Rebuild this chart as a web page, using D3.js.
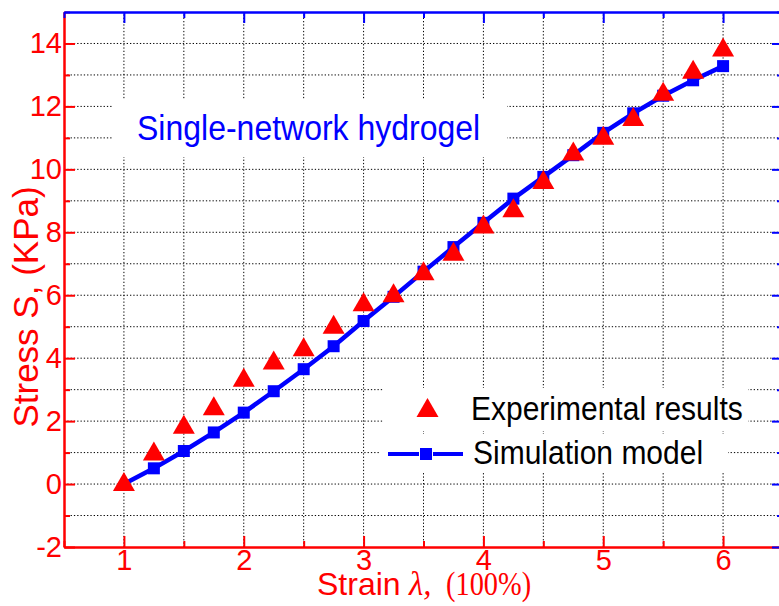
<!DOCTYPE html>
<html>
<head>
<meta charset="utf-8">
<script src="https://cdn.jsdelivr.net/npm/d3@7"></script>
<style>
  body { margin: 0; background: #fff; }
  svg { display: block; }
  .sans { font-family: "Liberation Sans", Arial, sans-serif; }
  .serif { font-family: "Liberation Serif", "Times New Roman", serif; }
</style>
</head>
<body>
<svg id="chart" width="779" height="606"></svg>
<script>
// strain (x) and the two stress series
const strain = [1, 1.25, 1.5, 1.75, 2, 2.25, 2.5, 2.75, 3, 3.25, 3.5, 3.75, 4, 4.25, 4.5, 4.75, 5, 5.25, 5.5, 5.75, 6];
const experimental = [0.08, 1.05, 1.9, 2.49, 3.39, 3.94, 4.36, 5.08, 5.79, 6.08, 6.78, 7.4, 8.26, 8.78, 9.68, 10.58, 11.08, 11.68, 12.48, 13.18, 13.89];
const simulation = [0, 0.5, 1.05, 1.64, 2.27, 2.95, 3.65, 4.38, 5.18, 5.95, 6.75, 7.53, 8.3, 9.07, 9.76, 10.45, 11.16, 11.78, 12.34, 12.83, 13.28];

const xMajor = [1, 2, 3, 4, 5, 6];
const xMinor = [0.5, 1.5, 2.5, 3.5, 4.5, 5.5, 6.5];
const yMajor = [-2, 0, 2, 4, 6, 8, 10, 12, 14];
const yMinor = [-1, 1, 3, 5, 7, 9, 11, 13, 15];
const xGrid = [1, 1.5, 2, 2.5, 3, 3.5, 4, 4.5, 5, 5.5, 6];
const yGrid = [-1, 0, 1, 2, 3, 4, 5, 6, 7, 8, 9, 10, 11, 12, 13, 14];

const seriesNames = ['Experimental results', 'Simulation model'];

const RED = '#ff0000';
const BLUE = '#0000ff';

const svg = d3.select('#chart');

const x = d3.scaleLinear().domain([0.5, 6.5]).range([64, 783]);
const y = d3.scaleLinear().domain([-2, 15]).range([547, 12]);

const points = strain.map((s, i) => ({ s, exp: experimental[i], sim: simulation[i] }));

// dotted grid
const grid = svg.append('g')
  .attr('stroke', '#000')
  .attr('stroke-width', 1)
  .attr('stroke-dasharray', '1.3,2');

grid.selectAll('line.v')
  .data(xGrid)
  .enter()
  .append('line')
  .attr('x1', d => x(d)).attr('x2', d => x(d))
  .attr('y1', y(-2)).attr('y2', y(15));

grid.selectAll('line.h')
  .data(yGrid)
  .enter()
  .append('line')
  .attr('x1', x(0.5)).attr('x2', x(6.5))
  .attr('y1', d => y(d)).attr('y2', d => y(d));

// white boxes behind the annotation and legend entries
svg.append('rect').attr('x', 113).attr('y', 100).attr('width', 394).attr('height', 57).attr('fill', '#fff');
svg.append('rect').attr('x', 384).attr('y', 388).attr('width', 364).attr('height', 43).attr('fill', '#fff');
svg.append('rect').attr('x', 380).attr('y', 434).attr('width', 348).attr('height', 39).attr('fill', '#fff');

// axes
const plainNum = d => String(d); // hyphen minus, like the original

const styleAxis = (g, color, showText) => {
  g.select('.domain').attr('stroke', color).attr('stroke-width', 2);
  g.selectAll('.tick line').attr('stroke', color).attr('stroke-width', 2);
  g.selectAll('.tick text')
    .attr('fill', color)
    .attr('font-size', 29)
    .attr('class', 'sans')
    .style('display', showText ? null : 'none');
};

const addAxis = (axisFn, scale, values, size, transform, color, showText) => {
  const g = svg.append('g')
    .attr('transform', transform)
    .call(axisFn(scale).tickValues(values).tickSizeInner(-size).tickSizeOuter(0)
      .tickPadding(showText ? 2 : 0).tickFormat(showText ? plainNum : ''));
  styleAxis(g, color, showText);
  return g;
};

addAxis(d3.axisBottom, x, xMinor, 6, `translate(0,${y(-2)})`, RED, false);
addAxis(d3.axisBottom, x, xMajor, 11, `translate(0,${y(-2)})`, RED, true);
addAxis(d3.axisLeft, y, yMinor, 6, `translate(${x(0.5)},0)`, RED, false);
const yAx = addAxis(d3.axisLeft, y, yMajor, 11, `translate(${x(0.5)},0)`, RED, true);
yAx.selectAll('.tick text').attr('x', -2);
addAxis(d3.axisTop, x, xMinor, 6, `translate(0,${y(15)})`, BLUE, false);
addAxis(d3.axisTop, x, xMajor, 11, `translate(0,${y(15)})`, BLUE, false);
addAxis(d3.axisRight, y, yMinor, 6, `translate(${x(6.5)},0)`, BLUE, false);
addAxis(d3.axisRight, y, yMajor, 11, `translate(${x(6.5)},0)`, BLUE, false);

// simulation line with squares
const line = d3.line().x(d => x(d.s)).y(d => y(d.sim));

svg.append('path')
  .datum(points)
  .attr('d', line)
  .attr('fill', 'none')
  .attr('stroke', BLUE)
  .attr('stroke-width', 4.5);

const sq = 12;
svg.selectAll('rect.sim')
  .data(points.slice(1))
  .enter()
  .append('rect')
  .attr('class', 'sim')
  .attr('x', d => x(d.s) - sq / 2)
  .attr('y', d => y(d.sim) - sq / 2)
  .attr('width', sq)
  .attr('height', sq)
  .attr('fill', BLUE);

// experimental triangles (bbox centred on the value)
const tri = (cx, cy) => `M${cx},${cy - 9.5}L${cx + 11},${cy + 9.5}L${cx - 11},${cy + 9.5}Z`;

svg.selectAll('path.exp')
  .data(points)
  .enter()
  .append('path')
  .attr('class', 'exp')
  .attr('d', d => tri(x(d.s), y(d.exp)))
  .attr('fill', RED);

// annotation
svg.append('text')
  .attr('class', 'sans')
  .attr('transform', 'translate(137,140) scale(1,1.08)')
  .attr('font-size', 32)
  .attr('fill', BLUE)
  .text('Single-network hydrogel');

// legend
svg.append('path').attr('d', tri(427.5, 407.5)).attr('fill', RED);
svg.append('line').attr('x1', 388).attr('x2', 463).attr('y1', 454).attr('y2', 454)
  .attr('stroke', BLUE).attr('stroke-width', 4);
svg.append('rect').attr('x', 419).attr('y', 448).attr('width', 14).attr('height', 12).attr('fill', '#fff');
svg.append('rect').attr('x', 420).attr('y', 448).attr('width', 12).attr('height', 12).attr('fill', BLUE);

svg.selectAll('text.legend')
  .data(seriesNames)
  .enter()
  .append('text')
  .attr('class', 'legend sans')
  .attr('transform', (d, i) => `translate(${i ? 473 : 471},${i ? 464 : 420}) scale(1,1.08)`)
  .attr('font-size', 30)
  .attr('fill', '#000')
  .text(d => d);

// axis titles
svg.append('text')
  .attr('class', 'sans')
  .attr('transform', 'translate(38,307) rotate(-90)')
  .attr('text-anchor', 'middle')
  .attr('font-size', 35)
  .attr('fill', RED)
  .text('Stress S, (KPa)');

svg.append('text')
  .attr('class', 'sans')
  .attr('transform', 'translate(317,595)')
  .attr('font-size', 32)
  .attr('fill', RED)
  .text('Strain');

svg.append('text')
  .attr('class', 'serif')
  .attr('transform', 'translate(409,595)')
  .attr('font-size', 33)
  .attr('font-style', 'italic')
  .attr('fill', RED)
  .text('λ,');

svg.append('text')
  .attr('class', 'serif')
  .attr('transform', 'translate(446,595) scale(0.86,1)')
  .attr('font-size', 33)
  .attr('fill', RED)
  .text('(100%)');
</script>
</body>
</html>
